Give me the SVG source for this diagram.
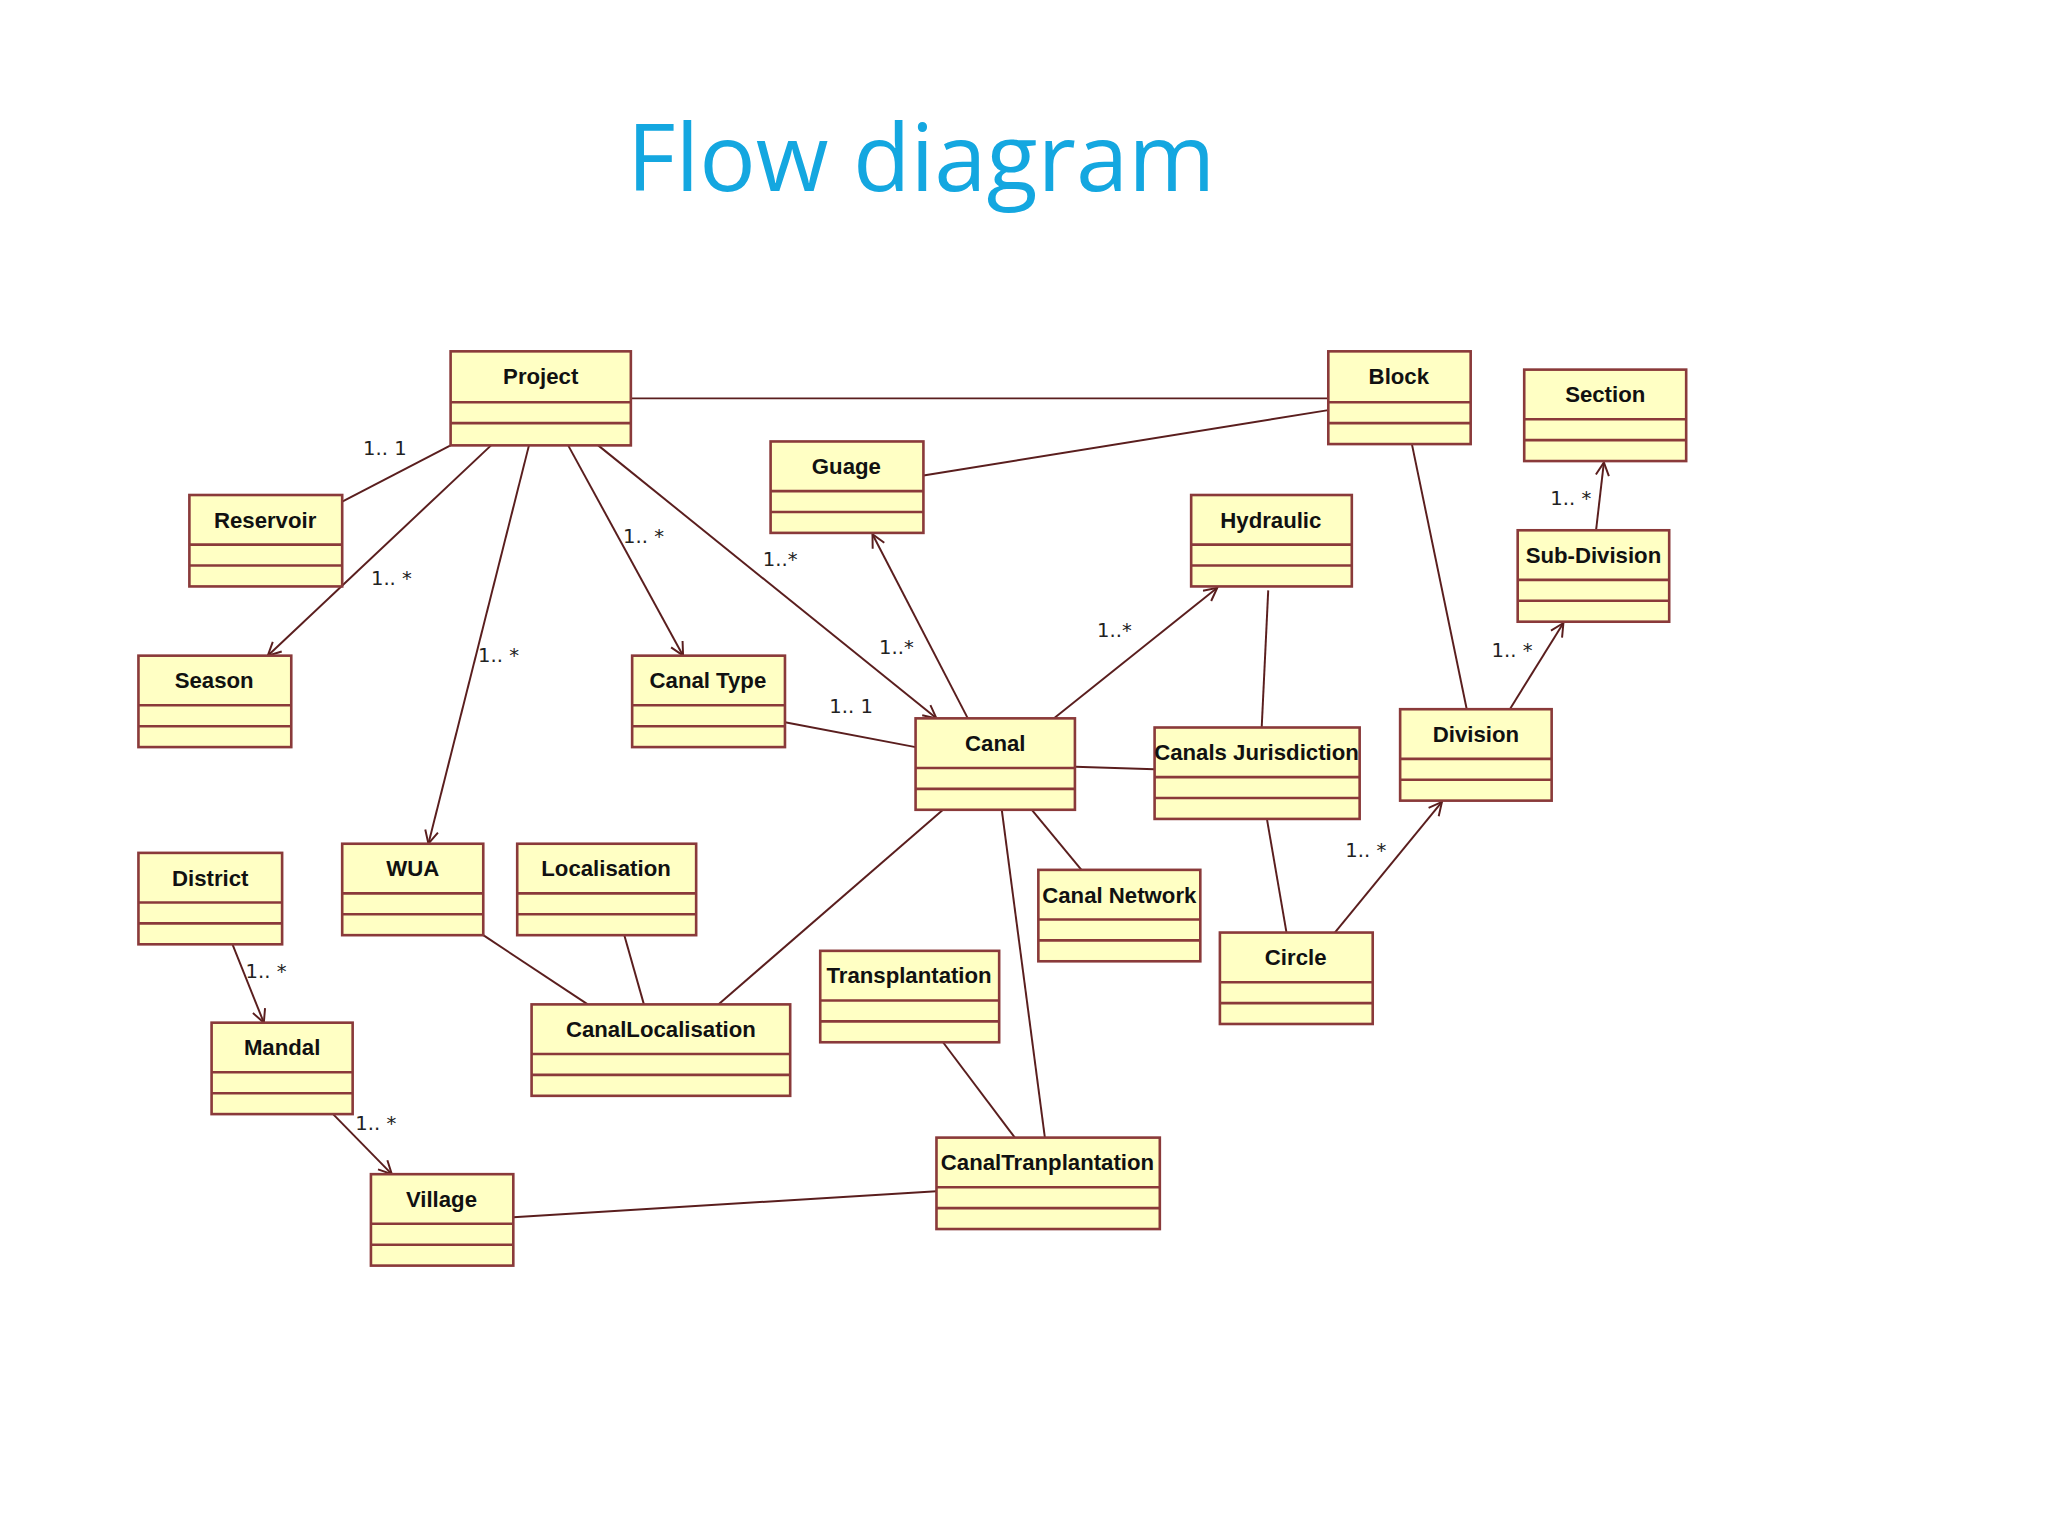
<svg xmlns="http://www.w3.org/2000/svg" width="2048" height="1536" viewBox="0 0 2048 1536">
<style>
.b rect{fill:#ffffc4;stroke:#8a3a3a;stroke-width:2}
.b line{stroke:#8a3a3a;stroke-width:2}
.b text{font-family:"Liberation Sans",Arial,sans-serif;font-weight:bold;font-size:17px;fill:#111;text-anchor:middle}
#connectors line{stroke:#5a1e1e;stroke-width:1.5}
.lbl{font-family:"DejaVu Sans",sans-serif;font-size:15px;fill:#222}
</style>
<defs>
<marker id="a" viewBox="0 0 12 12" refX="11" refY="6" markerWidth="12" markerHeight="12" markerUnits="userSpaceOnUse" orient="auto">
<path d="M1,1 L11,6 L1,11" fill="none" stroke="#5a1e1e" stroke-width="1.5"/>
</marker>
</defs>
<rect width="2048" height="1536" fill="#fff"/>
<g transform="scale(1.3061)">
<text x="480" y="146" font-family="'Open Sans',sans-serif" font-size="72" fill="#14a7e0">Flow diagram</text>
<g id="connectors">
<line x1="483" y1="305" x2="1017" y2="305"/>
<line x1="707" y1="364" x2="1017" y2="314"/>
<line x1="345" y1="341" x2="262" y2="384"/>
<line x1="376" y1="341" x2="205" y2="502" marker-end="url(#a)"/>
<line x1="405" y1="341" x2="328" y2="646" marker-end="url(#a)"/>
<line x1="435" y1="341" x2="523" y2="502" marker-end="url(#a)"/>
<line x1="458" y1="341" x2="717" y2="550" marker-end="url(#a)"/>
<line x1="741" y1="550" x2="668" y2="409" marker-end="url(#a)"/>
<line x1="807" y1="550" x2="932" y2="450" marker-end="url(#a)"/>
<line x1="601" y1="553" x2="701" y2="572"/>
<line x1="823" y1="587" x2="884" y2="589"/>
<line x1="971" y1="452" x2="966" y2="557"/>
<line x1="1081" y1="340" x2="1123" y2="543"/>
<line x1="1156" y1="543" x2="1197" y2="477" marker-end="url(#a)"/>
<line x1="1222" y1="406" x2="1228" y2="354" marker-end="url(#a)"/>
<line x1="970" y1="627" x2="985" y2="714"/>
<line x1="1022" y1="714" x2="1104" y2="614" marker-end="url(#a)"/>
<line x1="790" y1="620" x2="828" y2="666"/>
<line x1="722" y1="620" x2="550" y2="769"/>
<line x1="370" y1="716" x2="450" y2="769"/>
<line x1="478" y1="716" x2="493" y2="769"/>
<line x1="767" y1="620" x2="800" y2="871"/>
<line x1="722" y1="798" x2="777" y2="871"/>
<line x1="178" y1="723" x2="202" y2="783" marker-end="url(#a)"/>
<line x1="255" y1="853" x2="300" y2="899" marker-end="url(#a)"/>
<line x1="393" y1="932" x2="717" y2="912"/>
</g>
<g class="lbl">
<text x="278" y="348">1.. 1</text>
<text x="284" y="448">1.. *</text>
<text x="366" y="507">1.. *</text>
<text x="477" y="416">1.. *</text>
<text x="584" y="433">1..*</text>
<text x="673" y="501">1..*</text>
<text x="840" y="488">1..*</text>
<text x="635" y="546">1.. 1</text>
<text x="1142" y="503">1.. *</text>
<text x="1187" y="387">1.. *</text>
<text x="1030" y="656">1.. *</text>
<text x="188" y="749">1.. *</text>
<text x="272" y="865">1.. *</text>
</g>
<g id="Project" class="b"><rect x="345" y="269" width="138" height="72"/><line x1="345" y1="308" x2="483" y2="308"/><line x1="345" y1="324" x2="483" y2="324"/><text x="414" y="294">Project</text></g>
<g id="Block" class="b"><rect x="1017" y="269" width="109" height="71"/><line x1="1017" y1="308" x2="1126" y2="308"/><line x1="1017" y1="324" x2="1126" y2="324"/><text x="1071" y="294">Block</text></g>
<g id="Section" class="b"><rect x="1167" y="283" width="124" height="70"/><line x1="1167" y1="321" x2="1291" y2="321"/><line x1="1167" y1="337" x2="1291" y2="337"/><text x="1229" y="308">Section</text></g>
<g id="Guage" class="b"><rect x="590" y="338" width="117" height="70"/><line x1="590" y1="376" x2="707" y2="376"/><line x1="590" y1="392" x2="707" y2="392"/><text x="648" y="363">Guage</text></g>
<g id="Reservoir" class="b"><rect x="145" y="379" width="117" height="70"/><line x1="145" y1="417" x2="262" y2="417"/><line x1="145" y1="433" x2="262" y2="433"/><text x="203" y="404">Reservoir</text></g>
<g id="Hydraulic" class="b"><rect x="912" y="379" width="123" height="70"/><line x1="912" y1="417" x2="1035" y2="417"/><line x1="912" y1="433" x2="1035" y2="433"/><text x="973" y="404">Hydraulic</text></g>
<g id="SubDivision" class="b"><rect x="1162" y="406" width="116" height="70"/><line x1="1162" y1="444" x2="1278" y2="444"/><line x1="1162" y1="460" x2="1278" y2="460"/><text x="1220" y="431">Sub-Division</text></g>
<g id="Season" class="b"><rect x="106" y="502" width="117" height="70"/><line x1="106" y1="540" x2="223" y2="540"/><line x1="106" y1="556" x2="223" y2="556"/><text x="164" y="527">Season</text></g>
<g id="CanalType" class="b"><rect x="484" y="502" width="117" height="70"/><line x1="484" y1="540" x2="601" y2="540"/><line x1="484" y1="556" x2="601" y2="556"/><text x="542" y="527">Canal Type</text></g>
<g id="Canal" class="b"><rect x="701" y="550" width="122" height="70"/><line x1="701" y1="588" x2="823" y2="588"/><line x1="701" y1="604" x2="823" y2="604"/><text x="762" y="575">Canal</text></g>
<g id="CanalsJurisdiction" class="b"><rect x="884" y="557" width="157" height="70"/><line x1="884" y1="595" x2="1041" y2="595"/><line x1="884" y1="611" x2="1041" y2="611"/><text x="962" y="582">Canals Jurisdiction</text></g>
<g id="Division" class="b"><rect x="1072" y="543" width="116" height="70"/><line x1="1072" y1="581" x2="1188" y2="581"/><line x1="1072" y1="597" x2="1188" y2="597"/><text x="1130" y="568">Division</text></g>
<g id="District" class="b"><rect x="106" y="653" width="110" height="70"/><line x1="106" y1="691" x2="216" y2="691"/><line x1="106" y1="707" x2="216" y2="707"/><text x="161" y="678">District</text></g>
<g id="WUA" class="b"><rect x="262" y="646" width="108" height="70"/><line x1="262" y1="684" x2="370" y2="684"/><line x1="262" y1="700" x2="370" y2="700"/><text x="316" y="671">WUA</text></g>
<g id="Localisation" class="b"><rect x="396" y="646" width="137" height="70"/><line x1="396" y1="684" x2="533" y2="684"/><line x1="396" y1="700" x2="533" y2="700"/><text x="464" y="671">Localisation</text></g>
<g id="CanalNetwork" class="b"><rect x="795" y="666" width="124" height="70"/><line x1="795" y1="704" x2="919" y2="704"/><line x1="795" y1="720" x2="919" y2="720"/><text x="857" y="691">Canal Network</text></g>
<g id="Circle" class="b"><rect x="934" y="714" width="117" height="70"/><line x1="934" y1="752" x2="1051" y2="752"/><line x1="934" y1="768" x2="1051" y2="768"/><text x="992" y="739">Circle</text></g>
<g id="Transplantation" class="b"><rect x="628" y="728" width="137" height="70"/><line x1="628" y1="766" x2="765" y2="766"/><line x1="628" y1="782" x2="765" y2="782"/><text x="696" y="753">Transplantation</text></g>
<g id="Mandal" class="b"><rect x="162" y="783" width="108" height="70"/><line x1="162" y1="821" x2="270" y2="821"/><line x1="162" y1="837" x2="270" y2="837"/><text x="216" y="808">Mandal</text></g>
<g id="CanalLocalisation" class="b"><rect x="407" y="769" width="198" height="70"/><line x1="407" y1="807" x2="605" y2="807"/><line x1="407" y1="823" x2="605" y2="823"/><text x="506" y="794">CanalLocalisation</text></g>
<g id="CanalTranplantation" class="b"><rect x="717" y="871" width="171" height="70"/><line x1="717" y1="909" x2="888" y2="909"/><line x1="717" y1="925" x2="888" y2="925"/><text x="802" y="896">CanalTranplantation</text></g>
<g id="Village" class="b"><rect x="284" y="899" width="109" height="70"/><line x1="284" y1="937" x2="393" y2="937"/><line x1="284" y1="953" x2="393" y2="953"/><text x="338" y="924">Village</text></g>
</g>
</svg>
